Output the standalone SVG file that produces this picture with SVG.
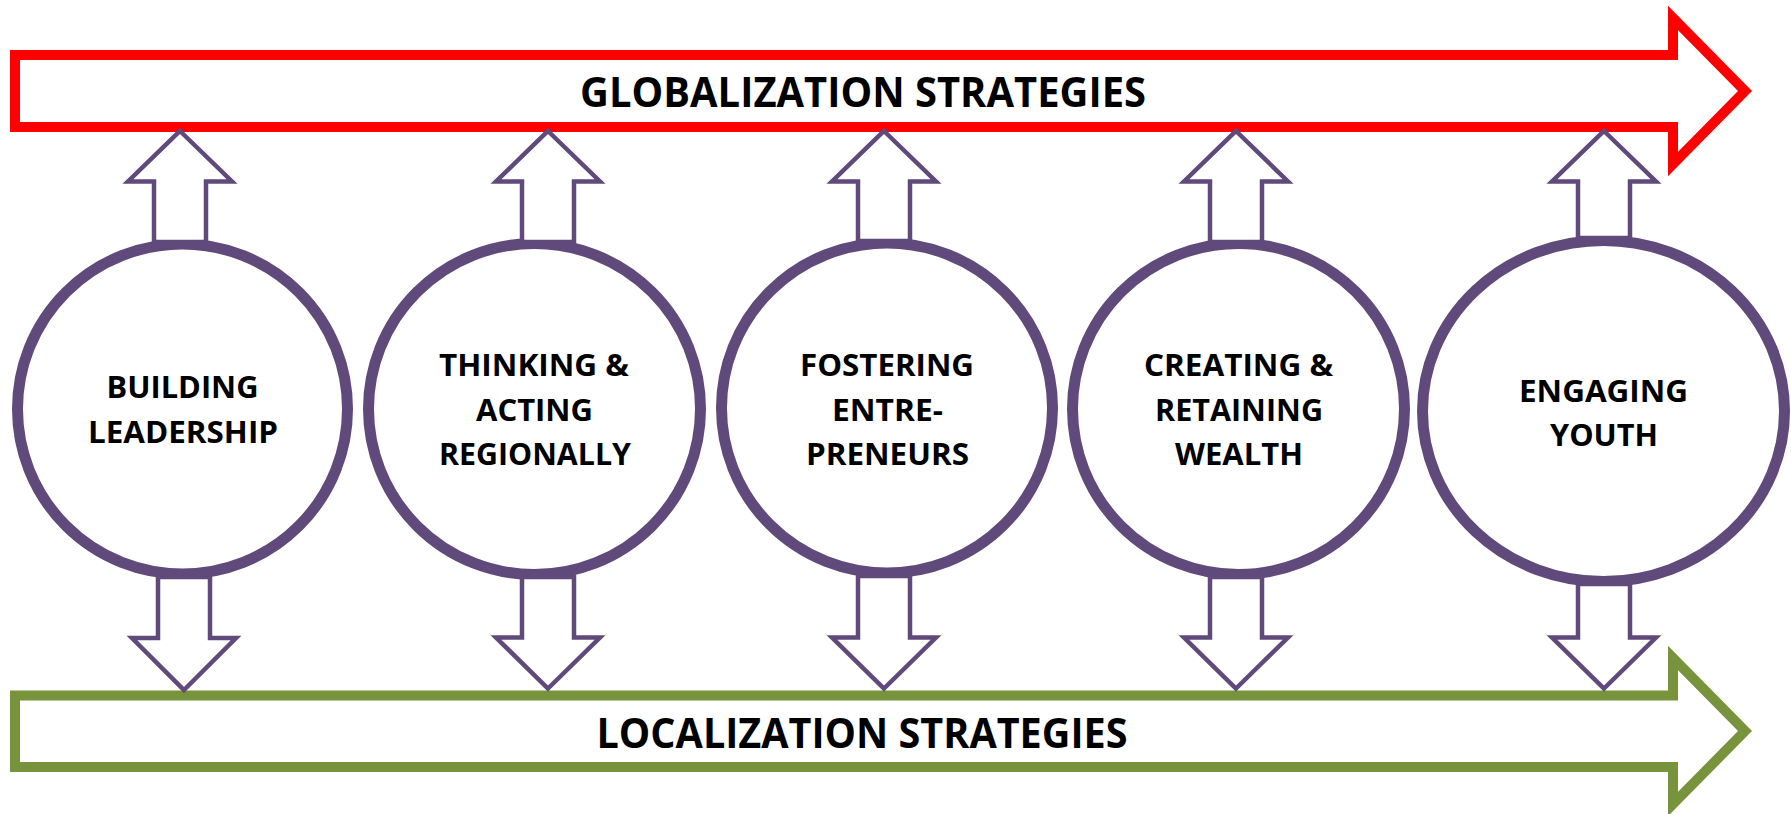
<svg xmlns="http://www.w3.org/2000/svg" width="1791" height="814" viewBox="0 0 1791 814">
<style>
.band{fill:#FFFFFF;stroke-width:10;stroke-linejoin:miter;stroke-miterlimit:10}
.glob{stroke:#FF0000}
.loc{stroke:#77933C}
.node{fill:#FFFFFF;stroke:#604A7B;stroke-width:11}
.arr{fill:#FFFFFF;stroke:#604A7B;stroke-width:4.5;stroke-linejoin:miter;stroke-miterlimit:10}
.big{font-family:"Open Sans","Liberation Sans",sans-serif;font-weight:700;font-size:42px;fill:#000000;text-anchor:middle}
.lbl{font-family:"Open Sans","Liberation Sans",sans-serif;font-weight:700;font-size:31px;fill:#000000;text-anchor:middle}
</style>
<rect width="1791" height="814" fill="#FFFFFF"/>
<g id="globalization">
<path class="band glob" d="M15,55 H1673 V18 L1745,91 L1673,164 V127 H15 Z"/>
<text class="big" x="863" y="107" textLength="566" lengthAdjust="spacingAndGlyphs">GLOBALIZATION STRATEGIES</text>
</g>
<g id="localization">
<path class="band loc" d="M15,695.5 H1673 V658 L1745,731 L1673,804 V767 H15 Z"/>
<text class="big" x="862" y="748" textLength="531" lengthAdjust="spacingAndGlyphs">LOCALIZATION STRATEGIES</text>
</g>
<g id="building-leadership">
<ellipse class="node" cx="182.5" cy="409" rx="165" ry="165"/>
<text class="lbl" x="182.5" y="398" textLength="152" lengthAdjust="spacingAndGlyphs">BUILDING</text>
<text class="lbl" x="183" y="443" textLength="190" lengthAdjust="spacingAndGlyphs">LEADERSHIP</text>
</g>
<g id="thinking-acting-regionally">
<ellipse class="node" cx="534.5" cy="409" rx="166" ry="165.5"/>
<text class="lbl" x="534" y="376" textLength="190" lengthAdjust="spacingAndGlyphs">THINKING &amp;</text>
<text class="lbl" x="534.5" y="421" textLength="117" lengthAdjust="spacingAndGlyphs">ACTING</text>
<text class="lbl" x="535" y="465" textLength="192" lengthAdjust="spacingAndGlyphs">REGIONALLY</text>
</g>
<g id="fostering-entrepreneurs">
<ellipse class="node" cx="887" cy="408" rx="165.5" ry="165"/>
<text class="lbl" x="887" y="376" textLength="174" lengthAdjust="spacingAndGlyphs">FOSTERING</text>
<text class="lbl" x="887.5" y="421" textLength="111" lengthAdjust="spacingAndGlyphs">ENTRE-</text>
<text class="lbl" x="887.5" y="465" textLength="163" lengthAdjust="spacingAndGlyphs">PRENEURS</text>
</g>
<g id="creating-retaining-wealth">
<ellipse class="node" cx="1238.5" cy="409" rx="166" ry="165.5"/>
<text class="lbl" x="1238.5" y="376" textLength="189" lengthAdjust="spacingAndGlyphs">CREATING &amp;</text>
<text class="lbl" x="1239" y="421" textLength="168" lengthAdjust="spacingAndGlyphs">RETAINING</text>
<text class="lbl" x="1239" y="465" textLength="128" lengthAdjust="spacingAndGlyphs">WEALTH</text>
</g>
<g id="engaging-youth">
<ellipse class="node" cx="1603.5" cy="411" rx="181" ry="170.5"/>
<text class="lbl" x="1603.5" y="402" textLength="169" lengthAdjust="spacingAndGlyphs">ENGAGING</text>
<text class="lbl" x="1604" y="446" textLength="108" lengthAdjust="spacingAndGlyphs">YOUTH</text>
</g>
<g id="connectors">
<path class="arr" d="M180,131 L232,181.5 H206 V242 H154 V181.5 H128 Z"/>
<path class="arr" d="M548,131 L600,181.5 H574 V242 H522 V181.5 H496 Z"/>
<path class="arr" d="M884,131 L936,181.5 H910 V241 H858 V181.5 H832 Z"/>
<path class="arr" d="M1236,131 L1288,181.5 H1262 V242 H1210 V181.5 H1184 Z"/>
<path class="arr" d="M1604,131 L1656,181.5 H1630 V238 H1578 V181.5 H1552 Z"/>
<path class="arr" d="M184,690 L236,638 H210 V577 H158 V638 H132 Z"/>
<path class="arr" d="M548,688.5 L600,637.5 H574 V577 H522 V637.5 H496 Z"/>
<path class="arr" d="M884,688.5 L936,637.5 H910 V576 H858 V637.5 H832 Z"/>
<path class="arr" d="M1236,688.5 L1288,637.5 H1262 V577 H1210 V637.5 H1184 Z"/>
<path class="arr" d="M1604,688.5 L1656,637.5 H1630 V584 H1578 V637.5 H1552 Z"/>
</g>
</svg>
